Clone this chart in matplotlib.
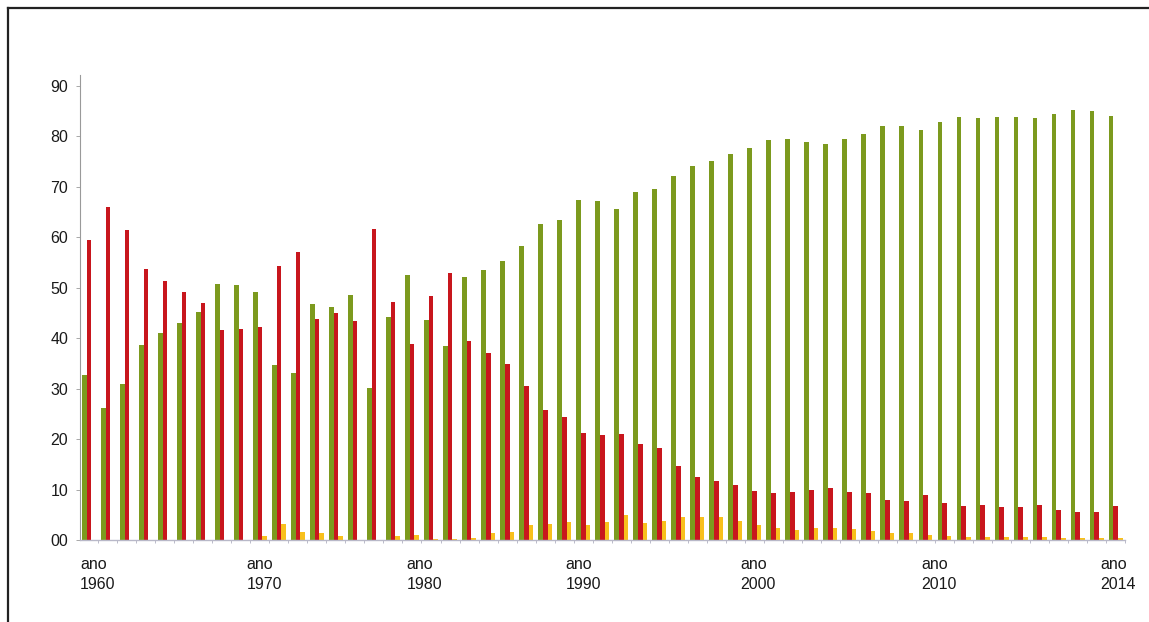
import numpy as np
import matplotlib
matplotlib.use("Agg")
import matplotlib.pyplot as plt
from matplotlib.lines import Line2D

years = list(range(1960, 2015))

green = [32.7, 26.2, 30.9, 38.7, 41.0, 43.0, 45.2, 50.6, 50.4, 49.1,
         34.6, 33.0, 46.7, 46.2, 48.6, 30.1, 44.2, 52.5, 43.5, 38.5,
         52.0, 53.5, 55.3, 58.3, 62.6, 63.4, 67.3, 67.1, 65.5, 68.9,
         69.5, 72.1, 74.1, 75.1, 76.5, 77.7, 79.3, 79.4, 78.9, 78.4,
         79.4, 80.3, 82.0, 82.0, 81.1, 82.8, 83.7, 83.5, 83.8, 83.8,
         83.5, 84.4, 85.2, 85.0, 83.9]

red = [59.5, 66.0, 61.4, 53.7, 51.2, 49.2, 46.9, 41.6, 41.7, 42.1,
       54.2, 57.0, 43.7, 44.9, 43.3, 61.5, 47.2, 38.8, 48.3, 52.9,
       39.5, 37.0, 34.8, 30.4, 25.8, 24.3, 21.2, 20.8, 20.9, 19.1,
       18.2, 14.7, 12.4, 11.6, 10.8, 9.7, 9.3, 9.5, 9.9, 10.2,
       9.6, 9.4, 8.0, 7.8, 9.0, 7.3, 6.8, 7.0, 6.6, 6.6,
       7.0, 6.0, 5.5, 5.5, 6.7]

yellow = [0, 0, 0, 0, 0, 0, 0, 0, 0, 0.7,
          3.2, 1.5, 1.3, 0.7, 0, 0, 0.8, 1.0, 0.2, 0.2,
          0.3, 1.3, 1.5, 3.0, 3.1, 3.6, 2.9, 3.6, 5.0, 3.3,
          3.8, 4.5, 4.6, 4.5, 3.8, 2.9, 2.3, 2.0, 2.3, 2.3,
          2.2, 1.7, 1.3, 1.3, 1.0, 0.85, 0.65, 0.65, 0.5, 0.5,
          0.5, 0.4, 0.4, 0.3, 0.3]

y_ticks = [0, 10, 20, 30, 40, 50, 60, 70, 80, 90]
y_ticklabels = ["00", "10", "20", "30", "40", "50", "60", "70", "80", "90"]

x_labels = ["ano\n1960", "ano\n1970", "ano\n1980", "ano\n1990",
            "ano\n2000", "ano\n2010", "ano\n2014"]
# where the reference prints its year labels (in group units)
x_label_pos = [-0.1, 8.67, 17.08, 25.43, 34.65, 44.15, 53.58]

FONT = ["Liberation Sans Narrow", "Liberation Sans", "DejaVu Sans"]
plt.rcParams["font.family"] = FONT

C_GREEN = "#7c9a1e"
C_RED = "#c8161d"
C_YELLOW = "#f8c01c"

fig = plt.figure(figsize=(11.49, 6.22), dpi=100)
ax = fig.add_axes([80 / 1149, 82 / 622, 1045 / 1149, 465 / 622])

x = np.arange(len(years))
w = 0.245
ax.bar(x, green, width=w, align="edge", color=C_GREEN, linewidth=0)
ax.bar(x + w, red, width=w, align="edge", color=C_RED, linewidth=0)
ax.bar(x + 2 * w, yellow, width=w, align="edge", color=C_YELLOW, linewidth=0)

ax.set_xlim(0, 54.57)
ax.set_ylim(0, 92.08)

for s in ["top", "right"]:
    ax.spines[s].set_visible(False)
ax.spines["left"].set_color("#9a9a9a")
ax.spines["left"].set_linewidth(0.8)
ax.spines["bottom"].set_color("#b8b8c8")
ax.spines["bottom"].set_linewidth(1.0)

ax.set_yticks(y_ticks)
ax.set_yticklabels(y_ticklabels)
ax.tick_params(axis="y", length=3, width=0.6, color="#9a9a9a", pad=5.5,
               labelsize=11.5, labelcolor="#1a1a1a")

ax.set_xticks(x_label_pos)
ax.set_xticklabels(x_labels, ha="left", linespacing=1.35)
ax.tick_params(axis="x", length=0, pad=12.5, labelsize=11.5, labelcolor="#1a1a1a")
ax.set_xticks(np.arange(0, 55) + 0.86, minor=True)
ax.tick_params(axis="x", which="minor", length=2, width=0.6, color="#b0b0c0")

# frame of the picture (top and left edges)
fig.add_artist(Line2D([8 / 1149, 1.0], [1 - 8 / 622, 1 - 8 / 622],
                      transform=fig.transFigure, color="#222222", linewidth=1.6))
fig.add_artist(Line2D([8 / 1149, 8 / 1149], [0.0, 1 - 8 / 622],
                      transform=fig.transFigure, color="#222222", linewidth=1.6))

fig.savefig("out.png", dpi=100)
